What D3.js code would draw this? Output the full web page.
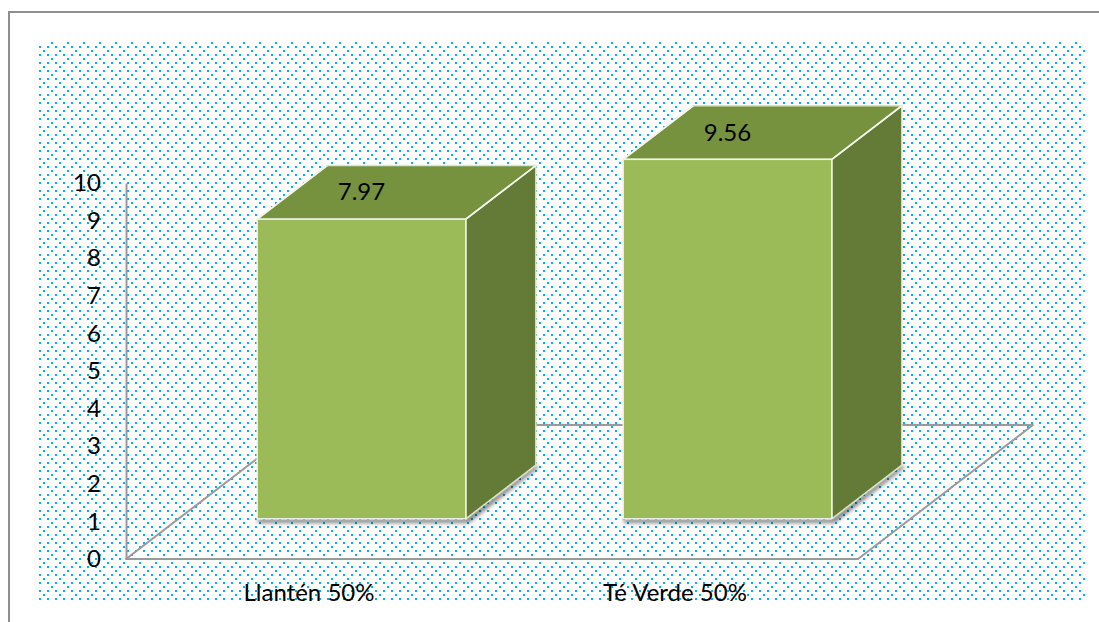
<!DOCTYPE html>
<html>
<head>
<meta charset="utf-8">
<script src="https://cdn.jsdelivr.net/npm/d3@7"></script>
<style>
  html, body { margin: 0; padding: 0; background: #fff; }
  svg { display: block; }
  text { font-family: Lato, "Open Sans", sans-serif; fill: #000; }
</style>
</head>
<body>
<script>
// ---- Data ----
const categories = ["Llantén 50%", "Té Verde 50%"];
const values = [7.97, 9.56];
const valueLabels = ["7.97", "9.56"];
const yTicks = [0, 1, 2, 3, 4, 5, 6, 7, 8, 9, 10];

// ---- Layout ----
const W = 1099, H = 622;
const svg = d3.select("body").append("svg").attr("width", W).attr("height", H);
const defs = svg.append("defs");

// dotted pattern (Excel-like)
const pat = defs.append("pattern")
  .attr("id", "dots").attr("patternUnits", "userSpaceOnUse")
  .attr("x", 43).attr("y", 46).attr("width", 16).attr("height", 16);
[[4,0],[12,0],[4,8],[12,8],[0,4],[8,12]].forEach(([px,py]) =>
  pat.append("rect").attr("x", px).attr("y", py).attr("width", 2).attr("height", 2).attr("fill", "#00B0F0"));

const blur = defs.append("filter").attr("id", "shadow").attr("x", "-20%").attr("y", "-20%").attr("width", "140%").attr("height", "140%");
blur.append("feGaussianBlur").attr("stdDeviation", 2.2);

// outer frame
svg.append("path").attr("d", `M9,${H} L9,12 L${W},12`)
  .attr("fill", "none").attr("stroke", "#8f8f8f").attr("stroke-width", 2);

// plot area pattern
svg.append("rect").attr("x", 37).attr("y", 42).attr("width", 1050).attr("height", 558)
  .attr("fill", "url(#dots)");

// scales
const x = d3.scaleBand().domain(categories).range([126, 858]).padding(0);
const y = d3.scaleLinear().domain([0, 10]).range([559, 183]);
const depth = [175, -134];            // floor depth vector
const f0 = 0.3, f1 = 0.7;             // bar depth fractions
const barFrac = 0.57;

// floor
const x0 = x.range()[0], x1 = x.range()[1], yb = y(0);
svg.append("path")
  .attr("d", `M${x0},${yb} L${x1},${yb} L${x1 + depth[0]},${yb + depth[1]} L${x0 + depth[0]},${yb + depth[1]} Z`)
  .attr("fill", "none").attr("stroke", "#9a9a9a").attr("stroke-width", 2).attr("stroke-linejoin", "round");

// axis
const axis = d3.axisLeft(y).tickValues(yTicks).tickSizeInner(0).tickSizeOuter(0).tickPadding(25)
  .tickFormat(d3.format("d"));
const gA = svg.append("g").attr("transform", `translate(${x0},0)`).call(axis);
gA.select(".domain").attr("stroke", "#9a9a9a").attr("stroke-width", 2);
gA.selectAll("text").style("font-family", "Lato, 'Open Sans', sans-serif").style("font-size", "24px").attr("fill", "#000");

// bars
const bw = x.bandwidth() * barFrac;
const fx = depth[0] * f0, fy = depth[1] * f0;
const dx = depth[0] * (f1 - f0), dy = depth[1] * (f1 - f0);

const bars = svg.append("g").selectAll("g").data(categories.map((c, i) => ({c, v: values[i], lab: valueLabels[i]})))
  .join("g");

bars.each(function(d) {
  const g = d3.select(this);
  const L = x(d.c) + x.bandwidth() / 2 - bw / 2 + fx;
  const R = L + bw;
  const B = y(0) + fy;
  const T = y(d.v) + fy;
  // shadow
  g.append("path")
    .attr("d", `M${L},${B} L${R},${B} L${R + dx},${B + dy} L${R + dx + 3},${B + dy + 2} L${R + 3},${B + 4} L${L + 1},${B + 4} Z`)
    .attr("fill", "#000").attr("opacity", 0.55).attr("filter", "url(#shadow)");
  // side
  g.append("path")
    .attr("d", `M${R},${T} L${R + dx},${T + dy} L${R + dx},${B + dy} L${R},${B} Z`)
    .attr("fill", "#647A37").attr("stroke", "#d9e3c6").attr("stroke-width", 1.5).attr("stroke-linejoin", "round");
  // top
  g.append("path")
    .attr("d", `M${L},${T} L${L + dx},${T + dy} L${R + dx},${T + dy} L${R},${T} Z`)
    .attr("fill", "#77923F").attr("stroke", "#d9e3c6").attr("stroke-width", 1.5).attr("stroke-linejoin", "round");
  // front
  g.append("rect").attr("x", L).attr("y", T).attr("width", bw).attr("height", B - T)
    .attr("fill", "#9BBB59").attr("stroke", "#eef3e4").attr("stroke-width", 1.5);
  // diagonal highlights
  g.append("path").attr("d", `M${L},${T} L${L + dx},${T + dy} M${R},${T} L${R + dx},${T + dy}`)
    .attr("stroke", "#f4f7ee").attr("stroke-width", 1.6).attr("fill", "none");
  // value label
  g.append("text")
    .attr("x", (L + R) / 2).attr("y", y(d.v) + depth[1] * 0.5 - 1.5)
    .attr("text-anchor", "middle").attr("dominant-baseline", "central")
    .style("font-size", "24px").text(d.lab);
});

// category labels
svg.append("g").selectAll("text").data(categories).join("text")
  .attr("x", d => x(d) + x.bandwidth() / 2)
  .attr("y", 601)
  .attr("text-anchor", "middle")
  .style("font-size", "24px")
  .text(d => d);
</script>
</body>
</html>
